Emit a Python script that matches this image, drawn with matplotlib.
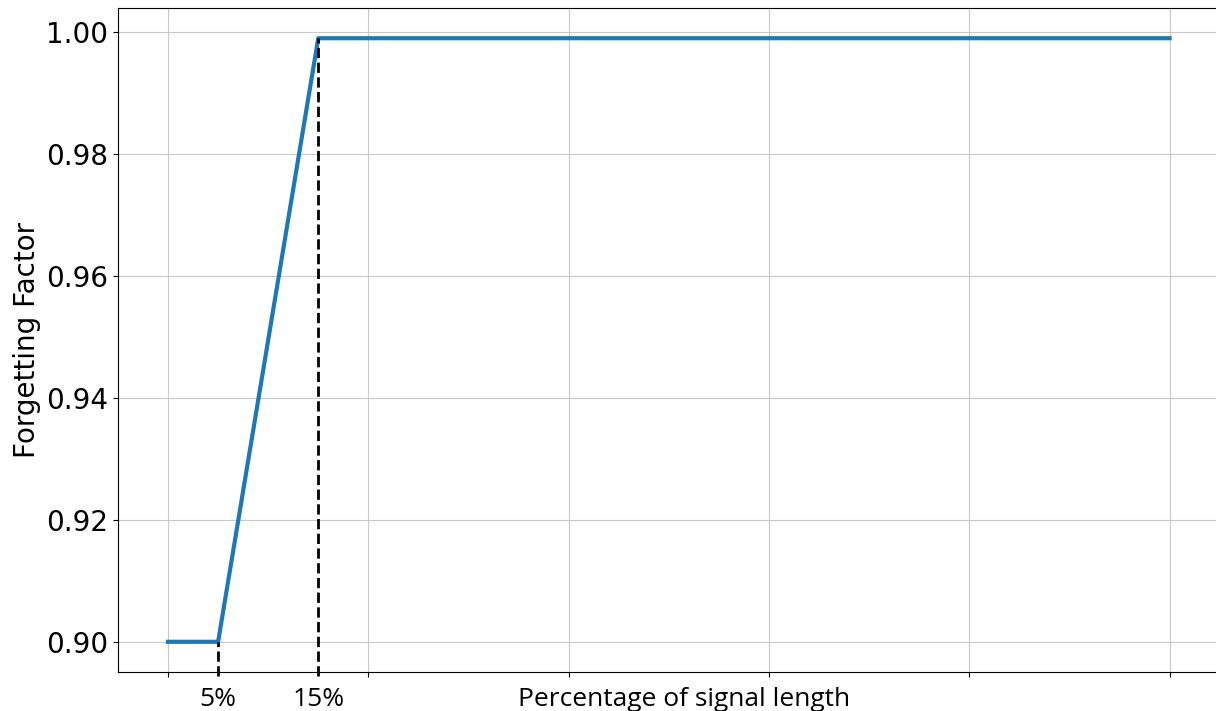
import matplotlib
matplotlib.use('Agg')
import matplotlib.pyplot as plt

# forgetting factor schedule over the signal
pct = [0.0, 0.05, 0.15, 1.0]
factor = [0.90, 0.90, 0.999, 0.999]

# marked breakpoints
marks = [0.05, 0.15]
mark_labels = ['5%', '15%']
mark_vals = [0.90, 0.999]

fig = plt.figure(figsize=(12.16, 7.11), dpi=100)
ax = fig.add_axes([0.097, 0.0549, 0.906, 0.9338])

ax.plot(pct, factor, color='tab:blue', linewidth=3)
ax.set_xticks([0, 0.2, 0.4, 0.6, 0.8, 1.0])
ax.set_xticklabels([])
ax.set_yticks([0.90, 0.92, 0.94, 0.96, 0.98, 1.00])
ax.tick_params(axis='y', labelsize=20)
ax.grid(True, color='#c8c8c8')
ax.set_ylabel('Forgetting Factor', fontsize=20)

ylo, yhi = ax.get_ylim()
for m, v, lab in zip(marks, mark_vals, mark_labels):
    ax.plot([m, m], [ylo - 0.0007, v], color='black', linestyle='--',
            linewidth=2, clip_on=False, zorder=3)
    ax.text(m, ylo - 0.0025, lab, ha='center', va='top', fontsize=19,
            family='Open Sans')
ax.set_ylim(ylo, yhi)

ax.text(0.515, ylo - 0.0025, 'Percentage of signal length', ha='center',
        va='top', fontsize=19, family='Open Sans')

fig.savefig('out.png', dpi=100)
